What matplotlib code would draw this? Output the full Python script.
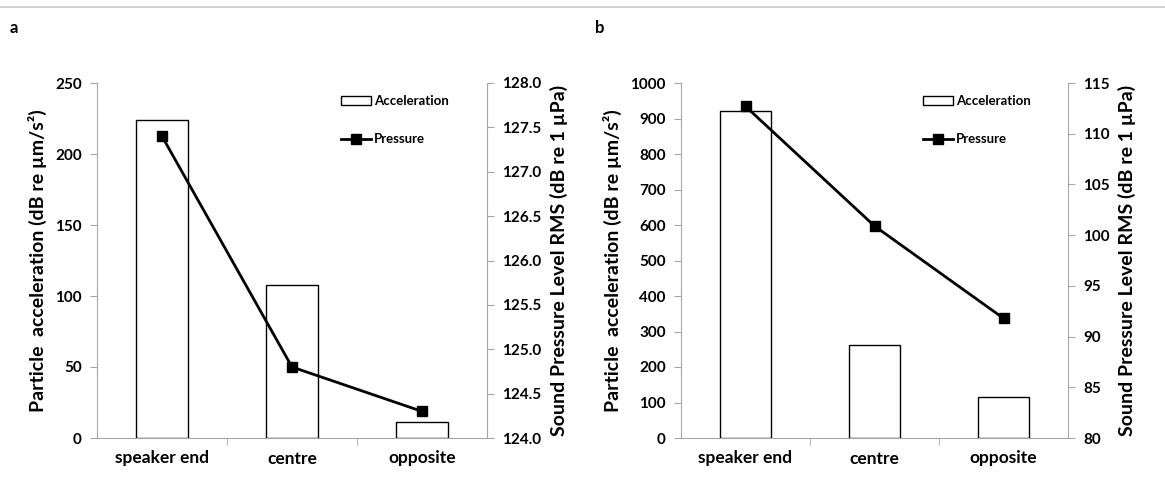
import matplotlib
matplotlib.use("Agg")
import matplotlib.pyplot as plt
from matplotlib.lines import Line2D
from matplotlib.patches import Patch
import numpy as np

plt.rcParams["font.family"] = ["Lato", "DejaVu Sans"]
plt.rcParams["font.weight"] = "bold"

categories = ["speaker end", "centre", "opposite"]

# panel a
accel_a = [224, 108, 11]
pressure_a = [127.4, 124.8, 124.3]
# panel b
accel_b = [920, 263, 116]
pressure_b = [112.7, 100.9, 91.8]

GREY = "#a6a6a6"
W, H = 1165, 495


def panel(fig, left_px, right_px, accel, pressure, acc_lim, acc_ticks, p_lim, p_ticks, p_fmt, letter, letter_x):
    top_px, bottom_px = 83, 438
    ax = fig.add_axes([left_px / W, (H - bottom_px) / H, (right_px - left_px) / W, (bottom_px - top_px) / H])
    x = np.arange(len(categories))
    ax.bar(x, accel, width=0.4, color="white", edgecolor="black", linewidth=1.0, zorder=2)
    ax.set_xlim(-0.5, len(categories) - 0.5)
    ax.set_ylim(*acc_lim)
    ax.set_yticks(acc_ticks)
    ax.set_xticks(x)
    ax.set_xticklabels(categories, fontsize=12.5)
    ax.set_xticks(x[:-1] + 0.5, minor=True)
    ax.tick_params(axis="x", which="major", length=0, pad=9)
    ax.tick_params(axis="x", which="minor", length=5, color=GREY)
    ax.tick_params(axis="y", length=5, color=GREY, labelsize=11, pad=6)
    for s in ["top", "right"]:
        ax.spines[s].set_visible(False)
    for s in ["left", "bottom"]:
        ax.spines[s].set_color(GREY)
    ax.set_ylabel("Particle  acceleration (dB re µm/s²)", fontsize=14, fontweight="bold", labelpad=6)

    ax2 = ax.twinx()
    ax2.plot(x, pressure, color="black", linewidth=2, marker="s", markersize=7, zorder=3)
    ax2.set_ylim(*p_lim)
    ax2.set_yticks(p_ticks)
    ax2.set_yticklabels([p_fmt.format(v) for v in p_ticks])
    ax2.tick_params(axis="y", length=5, color=GREY, labelsize=11, pad=6)
    for s in ["top", "left", "bottom"]:
        ax2.spines[s].set_visible(False)
    ax2.spines["right"].set_color(GREY)
    ax2.set_ylabel("Sound Pressure Level RMS (dB re 1 µPa)", fontsize=14, fontweight="bold", labelpad=6)

    handles = [
        Patch(facecolor="white", edgecolor="black", linewidth=1.0),
        Line2D([], [], color="black", linewidth=2, marker="s", markersize=7),
    ]
    ax2.legend(handles, ["Acceleration", "Pressure"], loc="upper left",
               bbox_to_anchor=(0.595, 1.0), frameon=False, fontsize=9.5,
               handlelength=2.3, handletextpad=0.2, labelspacing=2.0)

    fig.text(letter_x / W, 1 - 28 / H, letter, fontsize=12, fontweight="bold", va="center")
    return ax, ax2


fig = plt.figure(figsize=(W / 100, H / 100), dpi=100)
fig.add_artist(Line2D([0, 1], [1 - 7 / H, 1 - 7 / H], color="#c8c8c8", linewidth=1.2))

panel(fig, 97, 487, accel_a, pressure_a, (0, 250), np.arange(0, 251, 50),
      (124.0, 128.0), np.arange(124.0, 128.01, 0.5), "{:.1f}", "a", 10)
panel(fig, 681, 1068, accel_b, pressure_b, (0, 1000), np.arange(0, 1001, 100),
      (80, 115), np.arange(80, 116, 5), "{:.0f}", "b", 595)

fig.savefig("out.png", dpi=100)
